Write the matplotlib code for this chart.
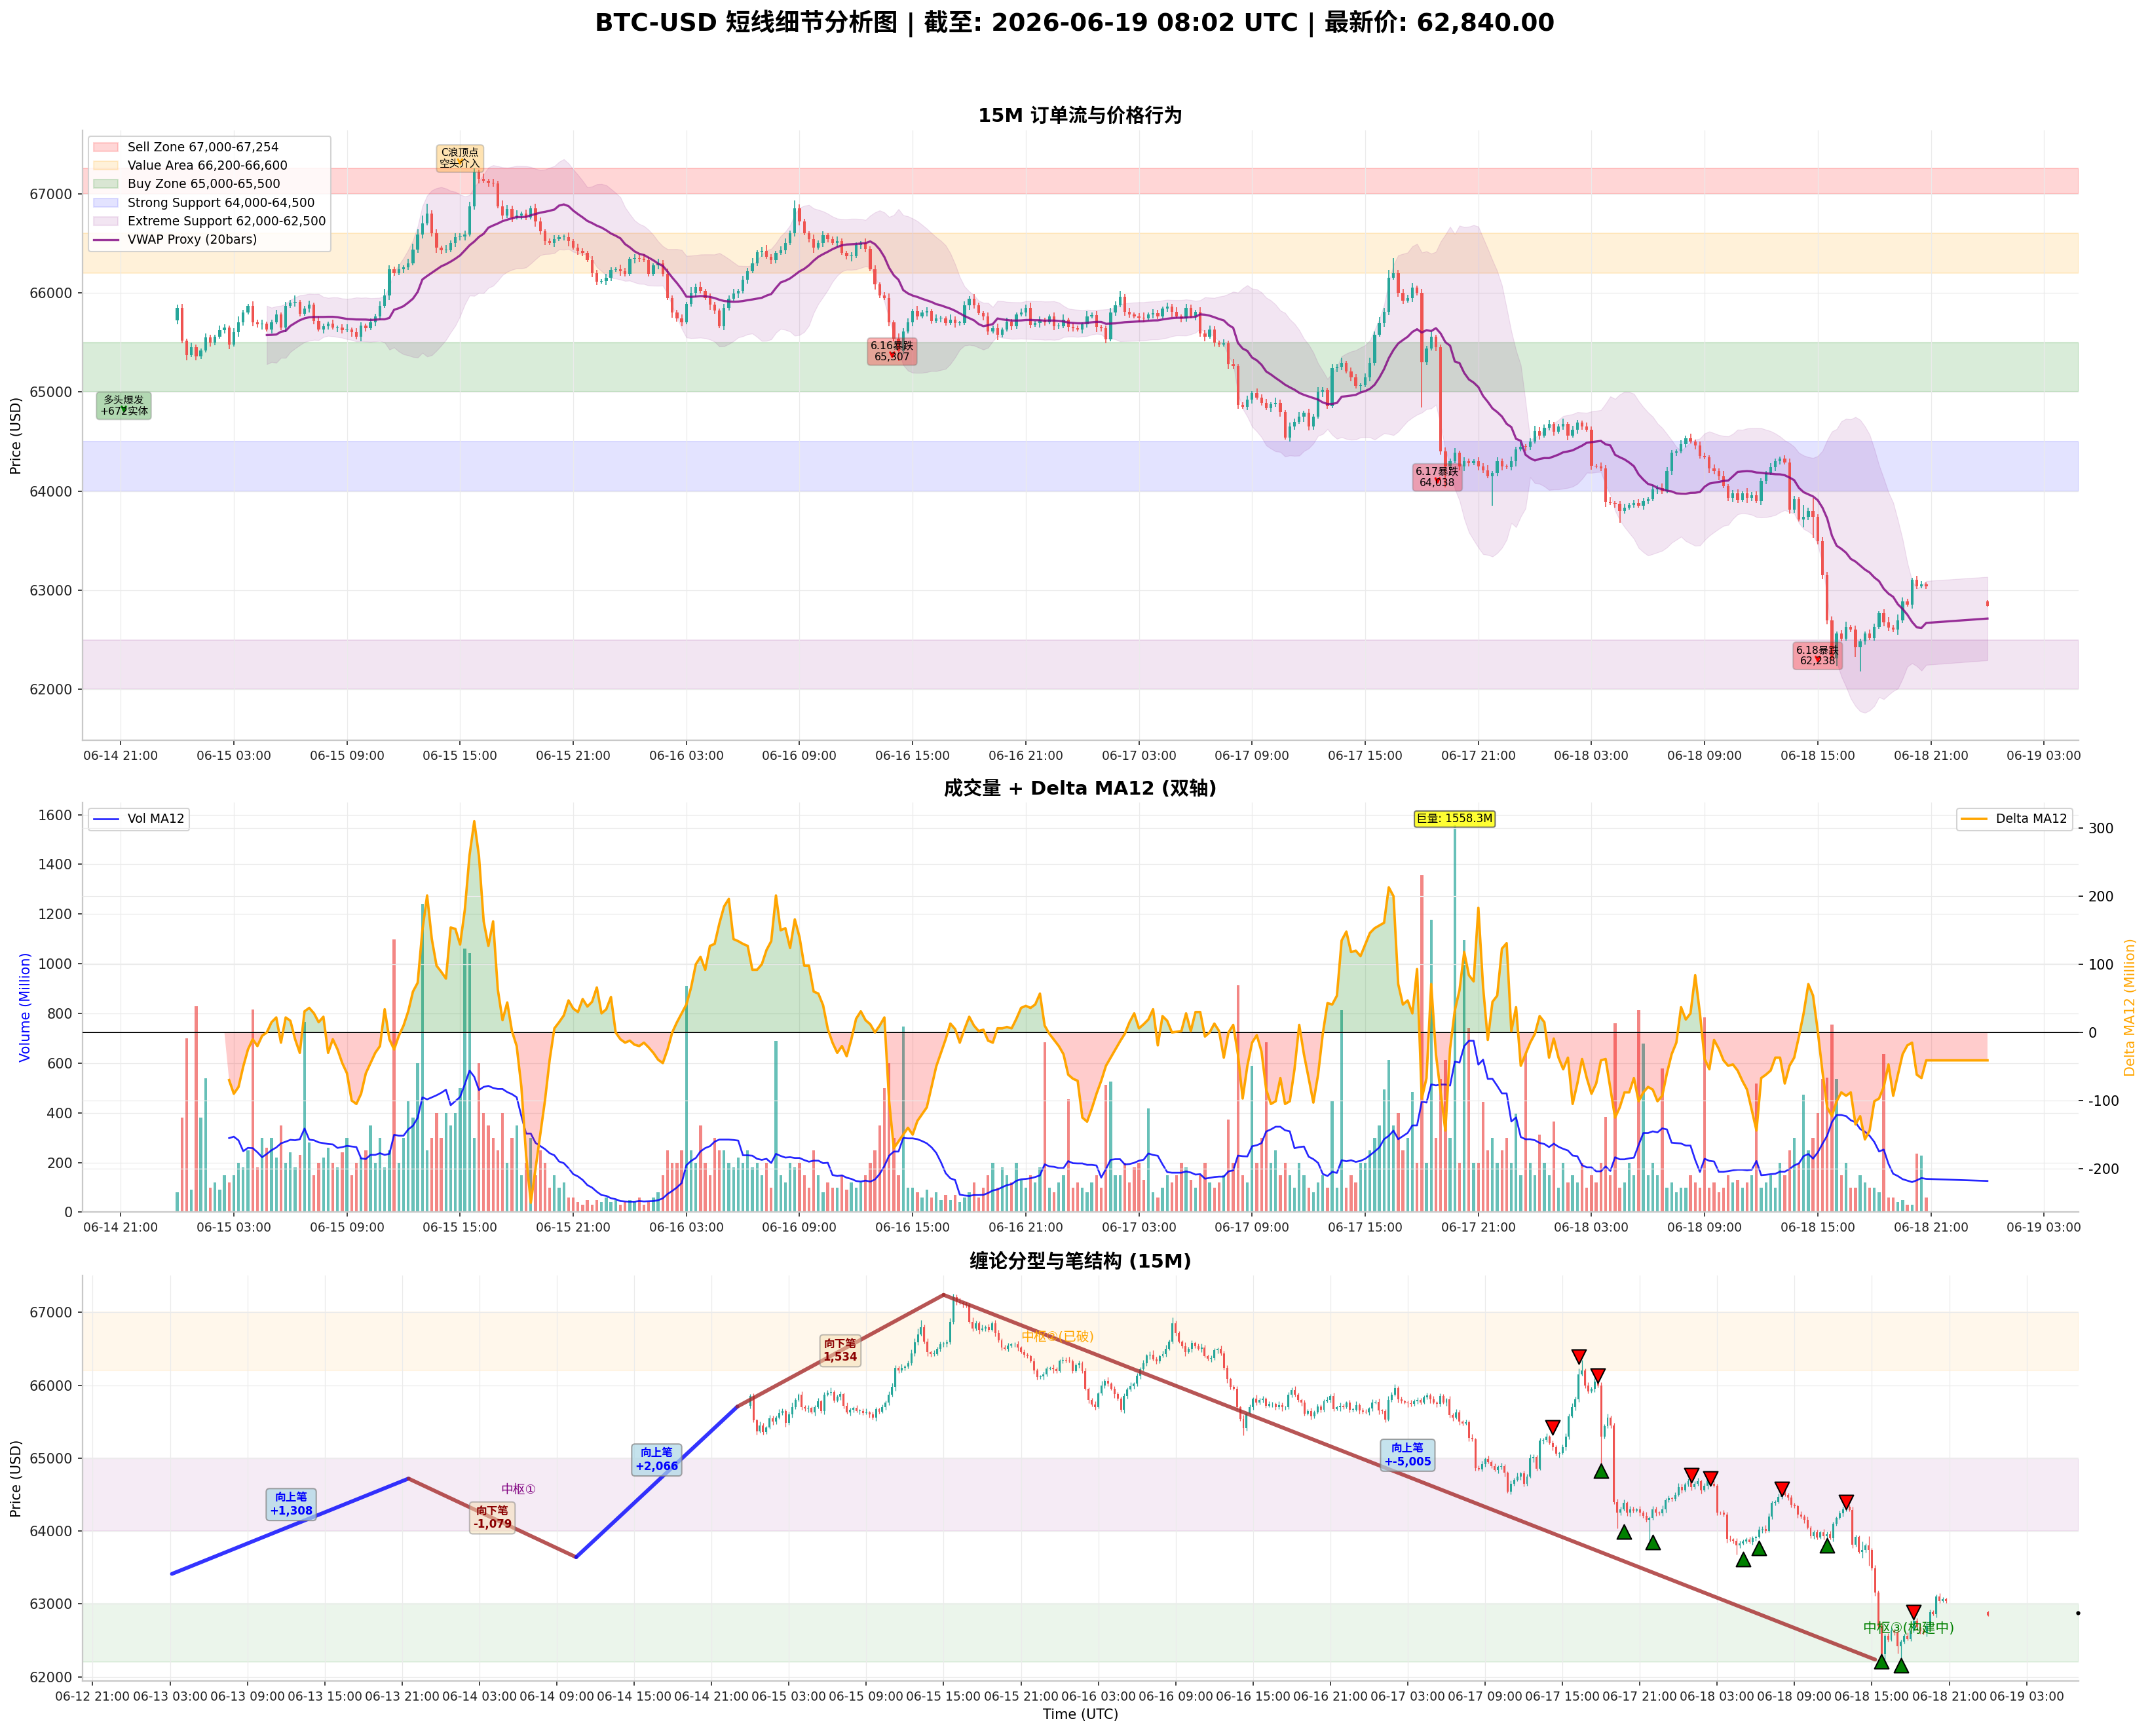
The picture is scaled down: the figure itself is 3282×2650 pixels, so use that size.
import numpy as np
import pandas as pd
import matplotlib
matplotlib.use("Agg")
import matplotlib.pyplot as plt
import matplotlib.dates as mdates
from matplotlib.patches import Patch
from matplotlib.lines import Line2D

plt.rcParams['font.family'] = ['DejaVu Sans', 'Noto Sans CJK SC']
plt.rcParams['axes.unicode_minus'] = False

# ============================ DATA ============================
first_bar = "2026-06-15 00:00"          # 15-minute bars
first_open = 65720
close = [
 65850, 65520, 65370, 65450, 65360, 65420, 65550, 65500,   # 06-15 00:00
 65560, 65620, 65650, 65480, 65600, 65700, 65800, 65867,   # 02:00
 65700, 65680, 65690, 65627, 65700, 65780, 65650, 65870,   # 04:00
 65900, 65910, 65790, 65840, 65880, 65714, 65627, 65660,   # 06:00
 65690, 65650, 65650, 65620, 65630, 65600, 65560, 65670,   # 08:00
 65640, 65700, 65760, 65867, 65976, 66237, 66200, 66240,   # 10:00
 66260, 66300, 66434, 66590, 66700, 66800, 66600, 66455,   # 12:00
 66430, 66430, 66500, 66560, 66570, 66586, 66870, 67215,   # 14:00
 67150, 67130, 67109, 67100, 66870, 66782, 66847, 66760,   # 16:00
 66780, 66800, 66760, 66850, 66717, 66620, 66520, 66500,   # 18:00
 66542, 66560, 66560, 66520, 66455, 66420, 66400, 66330,   # 20:00
 66200, 66110, 66120, 66150, 66230, 66237, 66220, 66194,   # 22:00
 66340, 66350, 66340, 66330, 66194, 66280, 66300, 66194,   # 06-16 00:00
 65950, 65800, 65740, 65700, 65890, 66000, 66060, 66020,   # 02:00
 65950, 65880, 65820, 65660, 65850, 65940, 65990, 66020,   # 04:00
 66130, 66220, 66300, 66410, 66420, 66360, 66330, 66400,   # 06:00
 66430, 66500, 66600, 66850, 66717, 66600, 66540, 66455,   # 08:00
 66499, 66580, 66540, 66499, 66520, 66400, 66368, 66370,   # 10:00
 66480, 66499, 66440, 66237, 66085, 65976, 65950, 65700,   # 12:00
 65540, 65410, 65610, 65700, 65817, 65760, 65800, 65817,   # 14:00
 65718, 65741, 65741, 65697, 65730, 65697, 65697, 65871,   # 16:00
 65937, 65871, 65795, 65762, 65610, 65642, 65577, 65631,   # 18:00
 65708, 65664, 65784, 65800, 65850, 65675, 65697, 65719,   # 20:00
 65700, 65760, 65664, 65664, 65730, 65653, 65640, 65631,   # 22:00
 65680, 65762, 65773, 65653, 65642, 65533, 65800, 65871,   # 06-17 00:00
 65959, 65806, 65780, 65762, 65750, 65741, 65784, 65795,   # 02:00
 65762, 65839, 65860, 65806, 65762, 65741, 65850, 65762,   # 04:00
 65806, 65590, 65560, 65631, 65500, 65479, 65490, 65282,   # 06:00
 65261, 64868, 64850, 64922, 64988, 64944, 64890, 64835,   # 08:00
 64879, 64890, 64800, 64541, 64650, 64700, 64748, 64792,   # 10:00
 64650, 64750, 64999, 65021, 64857, 65239, 65250, 65294,   # 12:00
 65206, 65150, 65064, 65070, 65150, 65294, 65577, 65697,   # 14:00
 65806, 66150, 66200, 66000, 65920, 65950, 66050, 66000,   # 16:00
 65300, 65435, 65560, 65450, 64400, 64250, 64300, 64385,   # 18:00
 64250, 64300, 64280, 64300, 64250, 64210, 64150, 64180,   # 20:00
 64300, 64250, 64240, 64300, 64420, 64450, 64445, 64500,   # 22:00
 64605, 64560, 64640, 64680, 64600, 64650, 64680, 64560,   # 06-18 00:00
 64620, 64690, 64650, 64620, 64255, 64250, 64230, 63890,   # 02:00
 63880, 63870, 63800, 63830, 63860, 63880, 63850, 63900,   # 04:00
 63920, 64020, 64030, 64000, 64200, 64385, 64400, 64470,   # 06:00
 64530, 64500, 64460, 64357, 64340, 64230, 64200, 64150,   # 08:00
 64050, 63930, 63980, 63910, 63980, 63930, 63960, 63900,   # 10:00
 64100, 64180, 64240, 64300, 64330, 64290, 63811, 63921,   # 12:00
 63712, 63738, 63800, 63738, 63492, 63154, 62698, 62313,   # 14:00
 62566, 62511, 62632, 62606, 62423, 62483, 62566, 62518,   # 16:00
 62632, 62769, 62676, 62622, 62600, 62698, 62886, 62857,   # 18:00
 63106, 63040, 63062, 63040,                               # 20:00
]
# upper / lower wick lengths per bar, in units of $10
wick_up10 = [
 3,4,2,5,3,2,4,3,2,5, 3,2,4,6,3,2,5,3,4,2, 3,5,2,4,3,6,2,3,4,2, 5,3,2,4,2,3,5,2,4,3,
 2,4,3,5,6,4,3,5,2,4, 6,5,8,10,3,4,2,5,3,4, 3,4,5,4,3,5,2,4,3,6, 4,3,5,2,4,3,5,4,2,3,
 4,2,3,5,2,4,3,2,4,3, 2,4,3,2,5,3,2,4,3,5, 3,2,4,3,5,2,3,4,2,6, 3,5,2,4,3,2,4,3,5,2,
 4,3,5,2,4,6,3,2,4,5, 3,8,4,3,2,5,3,4,2,3, 5,3,2,4,3,2,5,3,4,2, 3,4,2,5,3,4,2,5,3,4,
 2,4,3,2,5,3,2,4,3,5, 3,2,4,3,5,2,4,3,2,4, 3,5,2,4,3,2,4,3,5,2, 4,3,2,5,3,4,2,3,5,4,
 6,3,4,2,3,5,2,4,3,2, 4,3,5,2,4,3,2,5,3,4, 3,2,4,3,5,2,3,4,2,5, 3,4,2,5,3,2,4,3,5,2,
 4,3,5,3,2,4,3,5,2,4, 3,2,4,5,3,6,4,8,15,3, 4,3,5,2,4,3,5,2,3,4, 3,5,2,4,3,2,4,3,5,2,
 4,3,2,5,3,4,2,3,5,4, 3,4,2,3,5,2,4,3,2,4, 3,2,4,3,5,2,3,4,2,3, 4,3,2,4,3,5,4,3,2,4,
 3,5,2,4,3,2,4,3,5,2, 3,4,2,5,3,4,3,2,4,3, 2,3,4,3,2,12,3,13,3,4, 3,4,2,3,5,2,4,3,2,4,
 3,2,4,5,3,6,4,3,2,4, 3,2,
]
wick_dn10 = [
 4,3,5,2,4,3,2,4,3,2, 3,5,2,4,3,2,4,3,5,2, 4,2,3,5,2,4,3,2,4,3, 2,4,3,2,5,3,2,4,3,5,
 3,2,4,3,2,5,3,2,4,3, 2,3,4,2,3,5,4,3,2,4, 3,4,2,3,5,2,4,3,2,4, 3,5,2,4,3,2,5,3,4,2,
 4,2,3,5,2,4,3,2,4,3, 2,4,3,2,5,3,2,4,3,2, 3,2,4,3,2,5,3,4,2,3, 4,3,2,5,3,2,4,3,2,4,
 3,4,2,3,5,2,4,3,2,4, 2,3,4,2,3,5,2,4,3,2, 4,2,3,5,2,4,3,2,5,3, 2,4,3,10,3,2,4,3,2,4,
 3,2,4,3,2,5,3,2,4,3, 2,4,3,2,5,3,2,4,3,2, 4,3,2,5,3,2,4,3,2,4, 3,2,4,3,2,5,3,4,2,3,
 2,4,3,2,5,3,2,4,3,2, 3,5,2,4,3,2,4,3,5,2, 4,3,2,5,3,4,2,3,4,2, 3,2,4,3,5,2,4,3,2,5,
 4,3,2,5,3,2,4,3,2,4, 3,6,2,4,3,2,4,3,2,4, 3,2,4,3,46,3,2,4,3,21, 3,2,4,5,3,2,4,3,2,30,
 3,4,2,3,5,2,4,3,2,4, 2,3,4,2,3,5,2,4,3,2, 4,2,3,5,2,4,12,3,2,3, 2,4,3,2,5,3,2,4,3,2,
 3,2,4,3,2,5,3,4,2,3, 4,3,2,5,3,2,4,3,2,4, 3,2,4,3,2,8,3,21,3,4, 4,2,8,3,2,3,10,24,3,2,
 3,2,4,3,2,5,3,2,4,3, 2,3,
]
# volume per bar (Million)
volume = [
 80, 380, 700, 90, 830, 380, 540, 100, 120, 90, 150, 120,
 150, 200, 180, 250,  817, 180, 300, 260,  300, 220, 350, 200,  240, 180, 230, 766,
 280, 150, 200, 220,  260, 200, 180, 240,  300, 150, 200, 220,  250, 350, 200, 300,
 180, 250, 1099, 200, 300, 450, 380, 600,  1239, 250, 300, 400, 300, 400, 350, 400,
 500, 1060, 1042, 300, 600, 400, 350, 300, 250, 400, 200, 300,  350, 150, 200, 300,
 150, 250, 200, 100,  150, 100, 120, 60,   60, 40, 30, 50,      30, 50, 40, 60,
 40, 50, 30, 40,      50, 40, 60, 30,      40, 60, 80, 150,     250, 200, 200, 250,
 910, 250, 200, 350,  200, 150, 300, 250,  250, 200, 180, 220,  200, 250, 180, 200,
 150, 200, 100, 690,  150, 120, 200, 180,  200, 150, 100, 250,  150, 80, 120, 100,
 100, 150, 90, 120,   100, 120, 150, 200,  250, 350, 500, 600,  300, 150, 747, 100,
 100, 80, 60, 90,     60, 80, 50, 70,      50, 70, 40, 60,      80, 120, 60, 100,
 150, 200, 100, 180,  150, 120, 200, 130,  100, 150, 120, 180,  684, 100, 80, 120,
 150, 454, 100, 120,  100, 80, 120, 150,   100, 513, 525, 150,  150, 200, 120, 180,
 200, 130, 419, 80,   60, 100, 150, 120,   150, 200, 180, 130,  100, 150, 200, 120,
 100, 120, 150, 372,  200, 914, 150, 120,  590, 200, 300, 684,  200, 250, 150, 200,
 150, 100, 200, 150,  100, 80, 120, 150,   100, 449, 100, 813,  100, 150, 120, 200,
 200, 250, 300, 350,  495, 613, 350, 400,  250, 300, 484, 200,  1355, 200, 1178, 300,
 537, 613, 300, 1558.3, 200, 1096, 743, 200, 200, 443, 250, 300, 200, 250, 300, 200,
 396, 150, 637, 200,  150, 313, 200, 150,  366, 100, 200, 120,  150, 120, 200, 100,
 150, 120, 200, 384,  150, 761, 100, 120,  200, 150, 813, 678,  150, 200, 150, 578,
 100, 120, 80, 100,   100, 150, 120, 100,  784, 100, 120, 80,   100, 150, 120, 130,
 100, 120, 150, 519,  100, 120, 150, 100,  200, 150, 250, 300,  200, 472, 250, 300,
 400, 537, 543, 754,  537, 150, 200, 100,  100, 150, 120, 100,  100, 80, 637, 60,
 60, 40, 50, 30,      30, 237, 227, 60,
]
# Delta MA12 (Million), starting at bar 12 (index 11)
delta_ma12 = [
 -70, -90, -80, -50, -25, -10, -20, -5, 0,
 15, 22, -15, 22, 17, -10, -30, 31, 36, 28,
 15, 23, -30, -10, -25, -45, -60, -100, -105, -90,
 -60, -45, -30, -20, 34, -10, -25, -5, 10, 31,
 60, 73, 150, 201, 137, 98, 89, 79, 154, 152,
 129, 180, 260, 310, 259, 163, 127, 163, 63, 18,
 44, 2, -20, -80, -180, -250, -200, -150, -100, -40,
 6, 15, 25, 47, 35, 30, 49, 38, 45, 66,
 28, 34, 52, 0, -10, -15, -12, -18, -20, -15,
 -22, -30, -40, -45, -25, 0, 15, 28, 41, 66,
 100, 111, 92, 127, 130, 160, 185, 196, 137, 134,
 130, 127, 92, 92, 100, 121, 134, 201, 150, 153,
 124, 166, 140, 98, 98, 60, 57, 40, 5, -15,
 -30, -20, -35, -10, 20, 31, 18, 12, 0, 10,
 22, -100, -170, -160, -150, -140, -150, -130, -120, -110,
 -80, -50, -30, -10, 13, 5, -15, 5, 23, 10,
 2, 4, -12, -15, 6, 6, 8, 6, 20, 36,
 39, 36, 41, 57, 10, -2, -11, -20, -32, -62,
 -68, -71, -125, -131, -112, -90, -71, -49, -37, -25,
 -13, -2, 15, 28, 6, 12, 19, 34, -19, 24,
 17, 0, 1, 2, 28, 2, 30, 30, -6, 0,
 13, 2, -37, 0, 11, -32, -97, -49, -15, -4,
 -28, -84, -105, -101, -67, -105, -101, -54, 11, -32,
 -67, -103, -62, -2, 43, 41, 54, 135, 148, 118,
 120, 112, 129, 146, 153, 157, 161, 213, 200, 71,
 41, 47, 28, 93, -97, -67, 71, -32, -88, -144,
 -24, 32, 62, 118, 84, 75, 183, 67, -11, 45,
 54, 123, 131, 2, 37, -49, -32, -15, -2, 24,
 15, -37, -9, -37, -54, -37, -105, -75, -39, -67,
 -90, -75, -41, -39, -82, -125, -110, -88, -88, -67,
 -101, -88, -80, -84, -101, -93, -60, -32, -15, 37,
 19, 28, 84, 28, -39, -54, -11, -24, -41, -49,
 -47, -56, -71, -84, -114, -144, -67, -62, -56, -37,
 -37, -75, -49, -37, -6, 28, 71, 54, 2, -58,
 -110, -123, -101, -88, -93, -88, -135, -123, -157, -144,
 -101, -97, -80, -47, -93, -62, -32, -19, -15, -62,
 -67, -41,
]
# last (isolated) bar
last_bar = "2026-06-19 00:00"
last_ohlc = [62890, 62900, 62835, 62843]
last_volume = 0
last_delta = -41

# price zones (top panel)
zone_labels = ['Sell Zone 67,000-67,254', 'Value Area 66,200-66,600', 'Buy Zone 65,000-65,500',
               'Strong Support 64,000-64,500', 'Extreme Support 62,000-62,500']
zone_lo = [67000, 66200, 65000, 64000, 62000]
zone_hi = [67254, 66600, 65500, 64500, 62500]
zone_colors = ['red', 'orange', 'green', 'blue', 'purple']
zone_alpha = [0.16, 0.15, 0.15, 0.11, 0.10]

# annotations (top panel)
ann_text = ['多头爆发\n+672实体', 'C浪顶点\n空头介入', '6.16暴跌\n65,307', '6.17暴跌\n64,038', '6.18暴跌\n62,238']
ann_time = ['2026-06-14 21:10', '2026-06-15 15:00', '2026-06-16 13:55', '2026-06-17 18:50', '2026-06-18 15:00']
ann_price = [64760, 67254, 65307, 64038, 62238]
ann_face = ['green', 'orange', 'red', 'red', 'red']
ann_arrow = ['green', 'orange', 'red', 'red', 'red']

# bottom panel: strokes (笔)
bi_time = ['2026-06-13 03:09', '2026-06-13 21:30', '2026-06-14 10:30', '2026-06-14 23:00',
           '2026-06-15 15:00', '2026-06-18 15:15']
bi_price = [63412, 64720, 63641, 65707, 67241, 62236]
bi_color = ['blue', 'brown', 'blue', 'brown', 'brown']
bi_label = ['向上笔\n+1,308', '向下笔\n-1,079', '向上笔\n+2,066', '向下笔\n1,534', '向上笔\n+-5,005']
bi_label_time = ['2026-06-13 12:24', '2026-06-14 04:00', '2026-06-14 16:45', '2026-06-15 07:00', '2026-06-17 03:00']
bi_label_price = [64363, 64180, 64975, 66474, 65040]
bi_label_up = [True, False, True, False, True]

top_fx_time = ['2026-06-17 14:15', '2026-06-17 16:15', '2026-06-17 17:45', '2026-06-18 01:00',
               '2026-06-18 02:30', '2026-06-18 08:00', '2026-06-18 13:00', '2026-06-18 18:15']
top_fx_price = [65420, 66388, 66136, 64763, 64722, 64580, 64394, 62886]
bot_fx_time = ['2026-06-17 18:00', '2026-06-17 19:45', '2026-06-17 22:00', '2026-06-18 05:00',
               '2026-06-18 06:15', '2026-06-18 11:30', '2026-06-18 15:45', '2026-06-18 17:15']
bot_fx_price = [64826, 63990, 63849, 63612, 63770, 63801, 62208, 62161]

zs_text = ['中枢①', '中枢②(已破)', '中枢③(构建中)']
zs_time = ['2026-06-14 06:00', '2026-06-15 23:50', '2026-06-18 17:50']
zs_price = [64560, 66650, 62663]
zs_color = ['purple', 'orange', 'green']
zs_size = [9, 9.5, 10]

bot_zone_lo = [66200, 64000, 62200]
bot_zone_hi = [67000, 65000, 63000]
bot_zone_colors = ['orange', 'purple', 'green']

latest_time = '2026-06-19 07:00'
latest_price = 62880

# ============================ PREP ============================
UP, DN = '#26a69a', '#ef5350'


def tn(s):
    return mdates.date2num(pd.Timestamp(s).to_pydatetime())


c = np.array(close, float)
o = np.r_[first_open, c[:-1]]
hi = np.maximum(o, c) + np.array(wick_up10) * 10.0
lo = np.minimum(o, c) - np.array(wick_dn10) * 10.0
times = pd.date_range(first_bar, periods=len(c), freq='15min')
x = np.r_[mdates.date2num(times.to_pydatetime()), tn(last_bar)]
o = np.r_[o, last_ohlc[0]]
hi = np.r_[hi, last_ohlc[1]]
lo = np.r_[lo, last_ohlc[2]]
c = np.r_[c, last_ohlc[3]]
v = np.r_[np.array(volume, float), last_volume]
d = np.r_[np.full(11, np.nan), np.array(delta_ma12, float), last_delta]
up = c >= o
cols = np.where(up, UP, DN)

sv = pd.Series(v)
tp = pd.Series((hi + lo + c) / 3.0)
vwap = ((tp * sv).rolling(20).sum() / sv.rolling(20).sum()).values
sd = pd.Series(c).rolling(20).std().values
band_hi = vwap + 2 * sd
band_lo = vwap - 2 * sd
vma = sv.rolling(12).mean().values

W = 0.6 / 96.0


def candles(ax, lw):
    ax.vlines(x, lo, hi, colors=cols, linewidth=lw, zorder=3)
    body = np.maximum(np.abs(c - o), 6)
    ax.bar(x, body, bottom=np.minimum(o, c), width=W, color=cols, linewidth=0, zorder=4)


def style(ax, grid=True):
    for s in ['top', 'right']:
        ax.spines[s].set_visible(False)
    for s in ['left', 'bottom']:
        ax.spines[s].set_color('#c8c8c8')
        ax.spines[s].set_linewidth(1.1)
    if grid:
        ax.grid(True, color='#ebebeb', lw=0.6)
    ax.set_axisbelow(True)
    ax.tick_params(axis='x', labelsize=9, colors='#222222')
    ax.tick_params(axis='y', labelsize=10, colors='#222222')


def timeaxis(ax):
    ax.xaxis.set_major_locator(mdates.HourLocator(byhour=[3, 9, 15, 21]))
    ax.xaxis.set_major_formatter(mdates.DateFormatter('%m-%d %H:%M'))


# ============================ FIGURE ============================
fig = plt.figure(figsize=(3282 / 150, 2650 / 150), dpi=150)
L, Wd = 0.0383, 0.9285
ax1 = fig.add_axes([L, 0.5735, Wd, 0.3515])
axv = fig.add_axes([L, 0.3017, Wd, 0.2362], sharex=ax1)
axd = axv.twinx()
ax3 = fig.add_axes([L, 0.0316, Wd, 0.2338])

fig.suptitle('BTC-USD 短线细节分析图 | 截至: 2026-06-19 08:02 UTC | 最新价: 62,840.00',
             fontsize=18, fontweight='bold', y=0.9866, va='center')

# ---------- top panel ----------
handles = []
for lab, a, b, col, al in zip(zone_labels, zone_lo, zone_hi, zone_colors, zone_alpha):
    ax1.axhspan(a, b, color=col, alpha=al, zorder=0)
    handles.append(Patch(facecolor=col, edgecolor=col, alpha=al, label=lab))
ax1.fill_between(x, band_lo, band_hi, color='purple', alpha=0.10, lw=0.6, zorder=1)
candles(ax1, 0.8)
ln, = ax1.plot(x, vwap, color='purple', alpha=0.8, lw=1.6, zorder=5, label='VWAP Proxy (20bars)')
handles.append(ln)
ax1.legend(handles=handles, loc='upper left', fontsize=9, framealpha=0.85)
for txt, t, p, fc, ac in zip(ann_text, ann_time, ann_price, ann_face, ann_arrow):
    ax1.annotate(txt, xy=(tn(t), p), xytext=(tn(t), p + 100), ha='center', va='center',
                 fontsize=7.5, zorder=10,
                 bbox=dict(boxstyle='round,pad=0.3', fc=fc, ec='#666666', alpha=0.3),
                 arrowprops=dict(arrowstyle='->', color=ac, lw=1.5))
ax1.set_title('15M 订单流与价格行为', fontsize=14, fontweight='bold')
ax1.set_ylabel('Price (USD)', fontsize=10)
ax1.set_ylim(61485, 67640)
ax1.set_xlim(tn('2026-06-14 18:58'), tn('2026-06-19 04:50'))
style(ax1)
timeaxis(ax1)

# ---------- middle panel ----------
axv.bar(x, v, width=W, color=cols, alpha=0.7, zorder=2)
axv.plot(x, vma, color='blue', lw=1.3, alpha=0.85, label='Vol MA12', zorder=3)
imax = int(np.argmax(v))
axv.text(x[imax], v[imax], f'巨量: {v[imax]:.1f}M', ha='center', va='bottom', fontsize=8, zorder=10,
         bbox=dict(boxstyle='round,pad=0.2', fc='yellow', ec='#555555', alpha=0.8))
axv.set_ylim(0, 1650)
axv.set_ylabel('Volume (Million)', color='blue', fontsize=10)
axv.legend(loc='upper left', fontsize=9, framealpha=0.85)
style(axv)
timeaxis(axv)

axd.plot(x, d, color='orange', lw=1.8, label='Delta MA12', zorder=4)
dd = np.nan_to_num(d, nan=0.0)
valid = ~np.isnan(d)
axd.fill_between(x, dd, 0, where=(dd >= 0) & valid, color='green', alpha=0.2, interpolate=True, lw=0)
axd.fill_between(x, dd, 0, where=(dd < 0) & valid, color='red', alpha=0.2, interpolate=True, lw=0)
axd.axhline(0, color='black', lw=0.9)
axd.set_ylim(-264, 338)
axd.set_ylabel('Delta MA12 (Million)', color='orange', fontsize=10)
axd.legend(loc='upper right', fontsize=9, framealpha=0.85)
for s in axd.spines.values():
    s.set_visible(False)
axd.tick_params(axis='y', labelsize=10)
axd.grid(True, axis='y', color='#ebebeb', lw=0.6)
axv.set_title('成交量 + Delta MA12 (双轴)', fontsize=14, fontweight='bold')

# ---------- bottom panel ----------
for a, b, col in zip(bot_zone_lo, bot_zone_hi, bot_zone_colors):
    ax3.axhspan(a, b, color=col, alpha=0.08, zorder=0)
candles(ax3, 0.6)
bx = [tn(t) for t in bi_time]
for k in range(len(bi_color)):
    ax3.plot(bx[k:k + 2], bi_price[k:k + 2], color=bi_color[k], lw=2.8, alpha=0.8, zorder=5,
             solid_capstyle='round')
for lab, t, p, isup in zip(bi_label, bi_label_time, bi_label_price, bi_label_up):
    if isup:
        kw = dict(color='blue', bbox=dict(boxstyle='round,pad=0.3', fc='lightblue', ec='gray', alpha=0.7))
    else:
        kw = dict(color='darkred', bbox=dict(boxstyle='round,pad=0.3', fc='wheat', ec='gray', alpha=0.5))
    ax3.text(tn(t), p, lab, ha='center', va='center', fontsize=8, fontweight='bold', zorder=8, **kw)
ax3.scatter([tn(t) for t in top_fx_time], top_fx_price, marker='v', s=110, c='red',
            edgecolors='black', linewidths=1, zorder=7)
ax3.scatter([tn(t) for t in bot_fx_time], bot_fx_price, marker='^', s=110, c='green',
            edgecolors='black', linewidths=1, zorder=7)
for txt, t, p, col, fs in zip(zs_text, zs_time, zs_price, zs_color, zs_size):
    ax3.text(tn(t), p, txt, color=col, fontsize=fs, ha='center', va='center', zorder=8)
ax3.plot([tn(latest_time)], [latest_price], 'o', color='black', ms=2, zorder=8, clip_on=False)
ax3.set_xlim(tn('2026-06-12 20:12'), tn('2026-06-19 07:02'))
ax3.set_ylim(61940, 67510)
ax3.set_title('缠论分型与笔结构 (15M)', fontsize=14, fontweight='bold')
ax3.set_ylabel('Price (USD)', fontsize=10)
ax3.set_xlabel('Time (UTC)', fontsize=10)
style(ax3)
timeaxis(ax3)

fig.savefig('out.png', dpi=150)
